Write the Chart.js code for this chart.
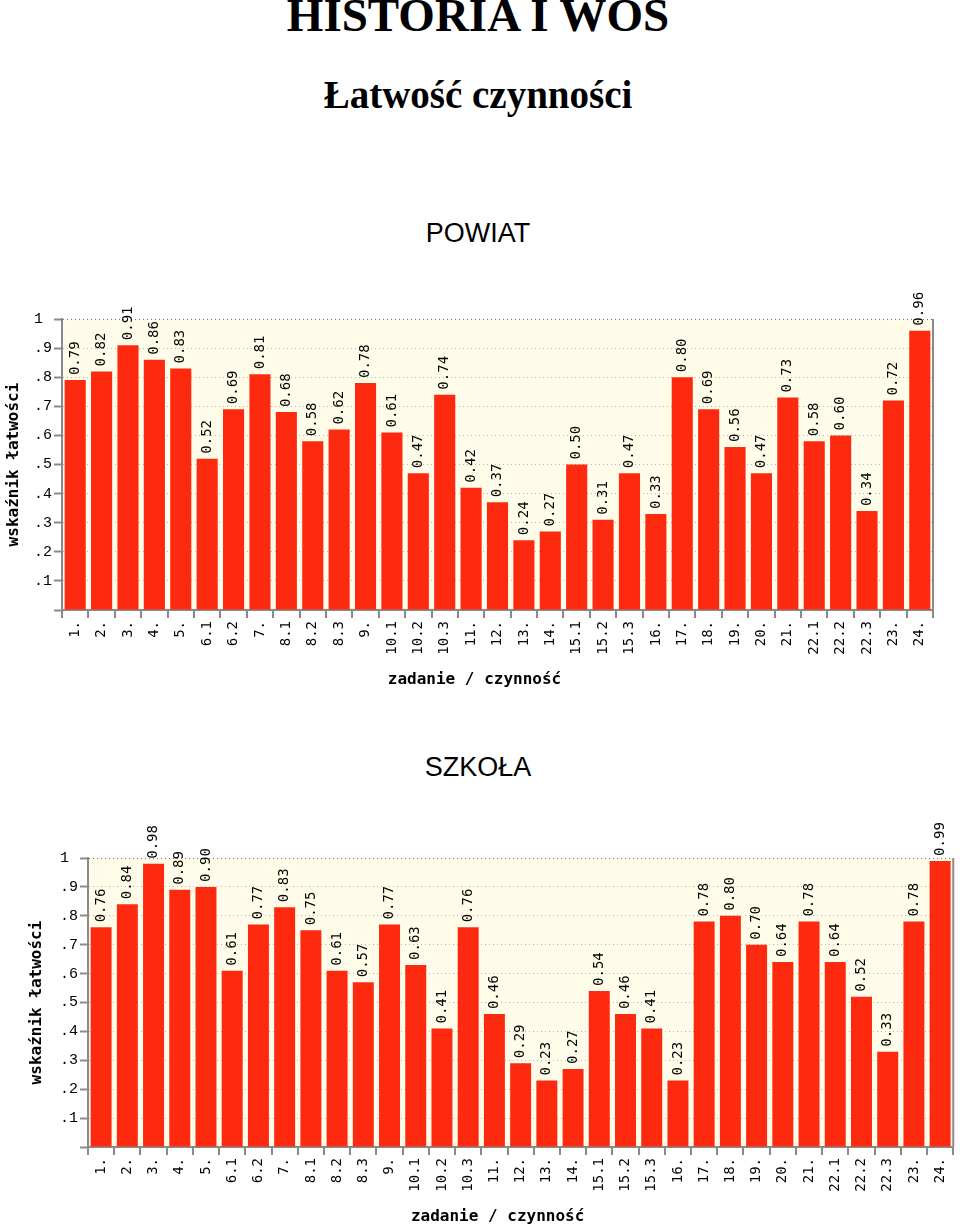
<!DOCTYPE html>
<html>
<head>
<meta charset="utf-8">
<script src="https://cdn.jsdelivr.net/npm/chart.js@4.4.1/dist/chart.umd.min.js"></script>
<style>
  body { margin: 0; background: #fff; width: 960px; height: 1225px; position: relative; overflow: hidden; }
  .t { position: absolute; left: 0; width: 956px; text-align: center; white-space: nowrap; line-height: 1; color: #000; }
  .serif { font-family: "Liberation Serif", "Times New Roman", serif; font-weight: bold; }
  .sans { font-family: "Liberation Sans", Arial, sans-serif; }
  canvas { position: absolute; left: 0; }
</style>
</head>
<body>
<div class="t serif" style="top:-8px;font-size:47px">HISTORIA I WOS</div>
<div class="t serif" style="top:75px;font-size:39px">Łatwość czynności</div>
<div class="t sans" style="top:220px;font-size:27px">POWIAT</div>
<div class="t sans" style="top:754px;font-size:27px">SZKOŁA</div>

<canvas id="powiatChart" width="960" height="430" style="top:270px"></canvas>
<canvas id="szkolaChart" width="960" height="425" style="top:800px"></canvas>

<script>
const categories = ["1.", "2.", "3.", "4.", "5.", "6.1", "6.2", "7.", "8.1", "8.2", "8.3", "9.",
  "10.1", "10.2", "10.3", "11.", "12.", "13.", "14.", "15.1", "15.2", "15.3", "16.", "17.",
  "18.", "19.", "20.", "21.", "22.1", "22.2", "22.3", "23.", "24."];

const powiatValues = [0.79, 0.82, 0.91, 0.86, 0.83, 0.52, 0.69, 0.81, 0.68, 0.58, 0.62, 0.78,
  0.61, 0.47, 0.74, 0.42, 0.37, 0.24, 0.27, 0.50, 0.31, 0.47, 0.33, 0.80,
  0.69, 0.56, 0.47, 0.73, 0.58, 0.60, 0.34, 0.72, 0.96];

const szkolaValues = [0.76, 0.84, 0.98, 0.89, 0.90, 0.61, 0.77, 0.83, 0.75, 0.61, 0.57, 0.77,
  0.63, 0.41, 0.76, 0.46, 0.29, 0.23, 0.27, 0.54, 0.46, 0.41, 0.23, 0.78,
  0.80, 0.70, 0.64, 0.78, 0.64, 0.52, 0.33, 0.78, 0.99];

const yTickLabels = ["", ".1", ".2", ".3", ".4", ".5", ".6", ".7", ".8", ".9", "1 "];

const yTitle = "wskaźnik łatwości";
const xTitle = "zadanie / czynność";

const MONO = '"DejaVu Sans Mono", monospace';
const TICK_MONO = '"Liberation Mono", monospace';
Chart.defaults.font.family = MONO;
Chart.defaults.color = "#000";

// cream plot background + right border
const plotFrame = {
  id: "plotFrame",
  beforeDraw(chart) {
    const { ctx, chartArea: a } = chart;
    ctx.save();
    ctx.fillStyle = "#fffcea";
    ctx.fillRect(a.left, a.top, a.right - a.left, a.bottom - a.top);
    ctx.restore();
  },
  afterDraw(chart) {
    const { ctx, chartArea: a } = chart;
    ctx.save();
    ctx.strokeStyle = "#8a8a8a";
    ctx.lineWidth = 2;
    ctx.beginPath();
    ctx.moveTo(a.right, a.top);
    ctx.lineTo(a.right, a.bottom);
    ctx.stroke();
    ctx.restore();
  }
};

// rotated value labels above bars
const barLabels = {
  id: "barLabels",
  afterDatasetsDraw(chart) {
    const ctx = chart.ctx;
    const meta = chart.getDatasetMeta(0);
    const data = chart.data.datasets[0].data;
    ctx.save();
    ctx.font = "14px " + MONO;
    ctx.fillStyle = "#000";
    ctx.textAlign = "left";
    ctx.textBaseline = "middle";
    meta.data.forEach((bar, i) => {
      ctx.save();
      ctx.translate(bar.x, bar.y - 5);
      ctx.rotate(-Math.PI / 2);
      ctx.fillText(data[i].toFixed(2), 0, 0);
      ctx.restore();
    });
    ctx.restore();
  }
};

// x axis title (sits a little left of the plot centre)
const xTitlePlugin = {
  id: "xTitle",
  afterDraw(chart, args, opts) {
    const { ctx, chartArea: a } = chart;
    ctx.save();
    ctx.font = "bold 16px " + MONO;
    ctx.fillStyle = "#000";
    ctx.textAlign = "center";
    ctx.textBaseline = "alphabetic";
    ctx.fillText(opts.text, (a.left + a.right) / 2 + opts.shift, a.bottom + opts.gap);
    ctx.restore();
  }
};

function makeChart(id, values, cfg) {
  return new Chart(document.getElementById(id), {
    type: "bar",
    data: {
      labels: categories,
      datasets: [{
        data: values,
        backgroundColor: "#fe2a10",
        borderWidth: 0,
        barPercentage: 0.8,
        categoryPercentage: 1
      }]
    },
    options: {
      responsive: false,
      animation: false,
      devicePixelRatio: 1,
      layout: { padding: { top: cfg.top, right: cfg.right, left: 0, bottom: 0 } },
      plugins: {
        legend: { display: false },
        tooltip: { enabled: false },
        xTitle: { text: xTitle, shift: -23, gap: 74 }
      },
      scales: {
        x: {
          offset: true,
          afterFit: s => { s.height = cfg.xHeight; },
          grid: {
            offset: true,
            drawOnChartArea: false,
            drawTicks: true,
            tickLength: 8,
            color: "#8a8a8a",
            lineWidth: 2
          },
          border: { color: "#8a8a8a", width: 2 },
          ticks: {
            autoSkip: false,
            minRotation: 90,
            maxRotation: 90,
            padding: 3,
            font: { size: 14, family: MONO },
            color: "#000"
          }
        },
        y: {
          min: 0,
          max: 1,
          afterFit: s => { s.width = cfg.yWidth; },
          afterBuildTicks: s => { s.ticks = yTickLabels.map((_, i) => ({ value: i / 10 })); },
          grid: {
            drawOnChartArea: true,
            drawTicks: true,
            tickLength: 8,
            color: c => (c.tick && c.tick.value === 1 ? "#777" : "#b4b4b4"),
            lineWidth: 1,
            tickColor: "#8a8a8a",
            tickWidth: 2,
            tickBorderDash: []
          },
          border: { color: "#8a8a8a", width: 2, dash: [1, 3] },
          ticks: {
            padding: 2,
            font: { size: 15, family: TICK_MONO },
            color: "#000",
            callback: (v, i) => yTickLabels[i]
          },
          title: {
            display: true,
            text: yTitle,
            font: { size: 16, weight: "bold", family: MONO },
            color: "#000",
            padding: { top: cfg.yTitlePad, bottom: 0 }
          }
        }
      }
    },
    plugins: [plotFrame, barLabels, xTitlePlugin]
  });
}

makeChart("powiatChart", powiatValues, { top: 49, right: 27, xHeight: 90, yWidth: 62, yTitlePad: 4 });
makeChart("szkolaChart", szkolaValues, { top: 58, right: 4, xHeight: 78, yWidth: 88, yTitlePad: 27 });
</script>
</body>
</html>
